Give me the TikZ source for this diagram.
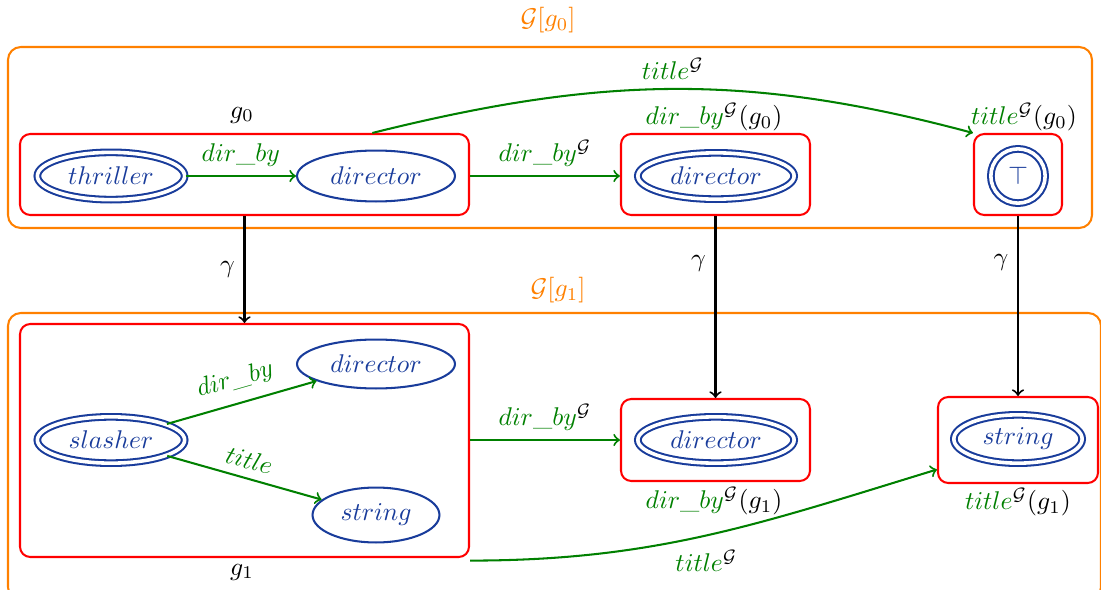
\documentclass[tikz,border=0pt]{standalone}
\usetikzlibrary{shapes.geometric}
\definecolor{gr}{RGB}{0,128,0}
\definecolor{bl}{RGB}{25,60,155}
\definecolor{orng}{RGB}{255,128,0}
\newcommand{\pu}{0.39pt}
\begin{document}
\begin{tikzpicture}[x=0.39pt,y=-0.39pt,
  ell/.style={ellipse, draw=bl, line width=0.8pt, text=bl, inner sep=0pt},
  dbl/.style={ell, double, double distance=1.4pt},
  grp/.style={draw=red, line width=0.8pt, rounded corners=4pt, inner sep=0pt},
  frm/.style={draw=orng, line width=0.8pt, rounded corners=5pt, inner sep=0pt},
  garr/.style={->, draw=gr, line width=0.8pt},
  gam/.style={->, line width=0.8pt},
  glab/.style={text=gr}]
\useasboundingbox (0,0) rectangle (1101,590);

% orange frames
\node[frm, minimum width=1084*\pu, minimum height=181*\pu] (O0) at (550,137.5) {};
\node[frm, minimum width=1093*\pu, minimum height=287*\pu] (O1) at (554.5,456.5) {};
\node[text=orng] (L0) at (548,20) {$\mathcal{G}[g_0]$};
\node[text=orng] (L1) at (558,290) {$\mathcal{G}[g_1]$};

% red boxes
\node[grp, minimum width=449*\pu, minimum height=81*\pu] (B0) at (244.5,174.5) {};
\node[grp, minimum width=189*\pu, minimum height=81*\pu] (BD0) at (715.5,174.5) {};
\node[grp, minimum width=88*\pu, minimum height=81*\pu] (BT) at (1018,174.5) {};
\node[grp, minimum width=449*\pu, minimum height=233*\pu] (B1) at (244.5,440.5) {};
\node[grp, minimum width=189*\pu, minimum height=82*\pu] (BD1) at (715.5,440) {};
\node[grp, minimum width=160*\pu, minimum height=86*\pu] (BS) at (1018,440) {};

% box labels
\node (g0) at (242,115) {$g_0$};
\node (g1) at (242,572) {$g_1$};
\node (l0) at (714,117) {$\color{gr}dir\_by^{\color{black}\mathcal{G}}\color{black}(g_0)$};
\node (l1) at (1024,117) {$\color{gr}title^{\color{black}\mathcal{G}}\color{black}(g_0)$};
\node (l2) at (714,501) {$\color{gr}dir\_by^{\color{black}\mathcal{G}}\color{black}(g_1)$};
\node (l3) at (1018,502) {$\color{gr}title^{\color{black}\mathcal{G}}\color{black}(g_1)$};

% ellipses
\node[dbl, minimum width=155*\pu-3pt, minimum height=55*\pu-3pt] (thr) at (111,176) {$thriller$};
\node[ell, minimum width=160*\pu-0.8pt, minimum height=53*\pu-0.8pt] (dir0) at (376,176) {$director$};
\node[dbl, minimum width=164*\pu-3pt, minimum height=54*\pu-3pt] (dirA) at (716,176) {$director$};
\node[dbl, circle, minimum size=62*\pu-3pt] (top) at (1018,176) {$\top$};
\node[dbl, minimum width=155*\pu-3pt, minimum height=54*\pu-3pt] (sla) at (111,440) {$slasher$};
\node[ell, minimum width=160*\pu-0.8pt, minimum height=51*\pu-0.8pt] (dir1) at (376,364) {$director$};
\node[ell, minimum width=129*\pu-0.8pt, minimum height=57*\pu-0.8pt] (str) at (376,515) {$string$};
\node[dbl, minimum width=164*\pu-3pt, minimum height=54*\pu-3pt] (dirB) at (716,440) {$director$};
\node[dbl, minimum width=136*\pu-3pt, minimum height=56*\pu-3pt] (strB) at (1018,439) {$string$};

% green edges
\draw[garr] (thr) -- node[glab, above] {$dir\_by$} (dir0);
\draw[garr] (B0.east |- thr) -- node[glab, above] {$\color{gr}dir\_by^{\color{black}\mathcal{G}}$} (BD0.west |- thr);
\draw[garr] (B0.18) to[out=14, in=165] node[glab, above] {$\color{gr}title^{\color{black}\mathcal{G}}$} (BT.north west);
\draw[garr] (sla) -- node[glab, above=1pt, sloped] {$dir\_by$} (dir1);
\draw[garr] (sla) -- node[glab, above, sloped] {$title$} (str);
\draw[garr] (B1.east |- sla) -- node[glab, above] {$\color{gr}dir\_by^{\color{black}\mathcal{G}}$} (BD1.west |- sla);
\draw[garr] ([yshift=-1pt]B1.south east) to[out=0, in=197] node[glab, below=2pt, pos=0.5] {$\color{gr}title^{\color{black}\mathcal{G}}$} (BS.200);

% gamma
\draw[gam] (B0.south) -- node[left] {$\gamma$} (B1.north);
\draw[gam] (BD0.south) -- node[left, pos=0.26] {$\gamma$} (BD1.north);
\draw[gam] (BT.south) -- node[left, pos=0.26] {$\gamma$} (BS.north);
\end{tikzpicture}
\end{document}
